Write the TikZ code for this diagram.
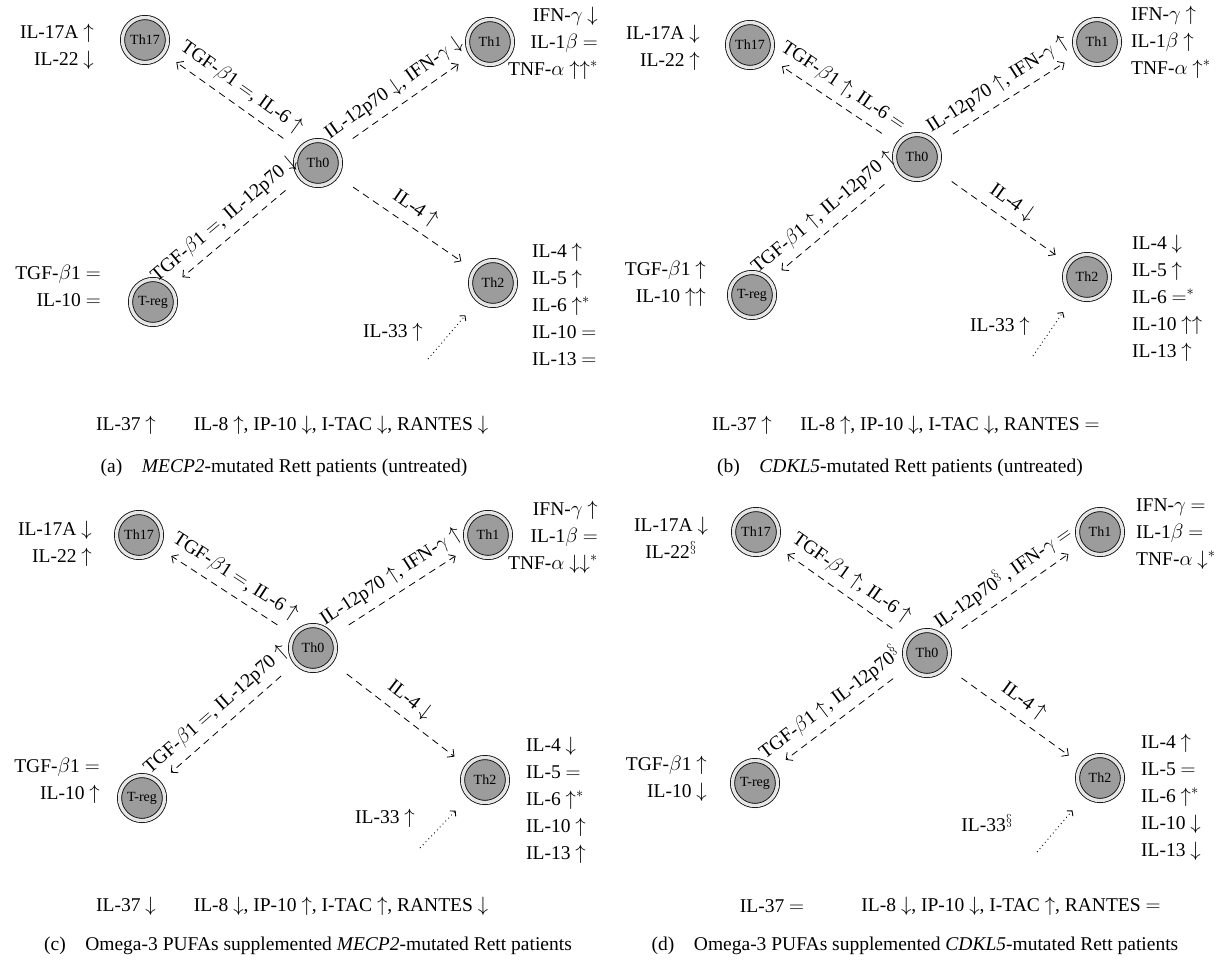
\documentclass[tikz,border=0pt]{standalone}
\usepackage{fontspec}
\setmainfont{Liberation Serif}
\usetikzlibrary{arrows.meta}
\definecolor{cellgray}{HTML}{9C9C9C}
\definecolor{ringgray}{HTML}{E6E6E6}
\newcommand\labfont{\fontsize{19.5}{27}\selectfont}
\newcommand\cellfont{\fontsize{14}{15}\selectfont}
\newcommand\capfont{\fontsize{19.5}{20}\selectfont}
\newcommand\up{$\uparrow$}
\newcommand\dn{$\downarrow$}
\newcommand\eq{$=$}
\begin{document}
\begin{tikzpicture}[x=1pt,y=-1pt,
  cell/.style={circle, draw, line width=0.8pt, double=ringgray, double distance=3.4pt,
    fill=cellgray, minimum size=45pt, inner sep=0pt, outer sep=0pt, font=\cellfont},
  lab/.style={font=\labfont, inner sep=0pt},
  captxt/.style={font=\capfont, inner sep=0pt},
  flow/.style={dash pattern=on 7pt off 5pt, line width=0.8pt,
    -{Straight Barb[length=5pt,width=10pt]}, shorten <=20pt, shorten >=16pt},
  dotarrow/.style={dash pattern=on 0.9pt off 3.2pt, line width=0.9pt,
    -{Straight Barb[length=3.5pt,width=8pt]}, shorten >=20pt},
  elab/.style={sloped, above=8pt, font=\labfont, inner sep=0pt}]
\useasboundingbox (0,0) rectangle (1226,959);

% ---------------- panel (a)
\node[cell] (a0) at (318,163) {Th0};
\node[cell] (a17) at (145,40) {Th17};
\node[cell] (a1) at (490,42) {Th1};
\node[cell] (areg) at (153,302) {T-reg};
\node[cell] (a2) at (493,283) {Th2};
\node[lab, anchor=east, align=right] (a17l) at (94,47) {IL-17A \up\\IL-22 \dn};
\node[lab, anchor=east, align=right] (a1l) at (598,43) {IFN-$\gamma$ \dn\\IL-1$\beta$ \eq\\TNF-$\alpha$ $\uparrow\uparrow^*$};
\node[lab, anchor=east, align=right] (aregl) at (101,286) {TGF-$\beta$1 \eq\\IL-10 \eq};
\node[lab, anchor=west, align=left] (a2l) at (532,304) {IL-4 \up\\IL-5 \up\\IL-6 $\uparrow^*$\\IL-10 \eq\\IL-13 \eq};
\node[lab] (a33) at (393,332) {IL-33 \up};
\coordinate (a33s) at (428,359);
\draw[dotarrow] (a33s) -- (a2);
\draw[flow] (a0) -- node[elab] {TGF-$\beta$1 \eq, IL-6 \up} (a17);
\draw[flow] (a0) -- node[elab] {IL-12p70 \dn, IFN-$\gamma$ \dn} (a1);
\draw[flow] (a0) -- node[elab] {TGF-$\beta$1 \eq, IL-12p70 \dn} (areg);
\draw[flow] (a0) -- node[elab] {IL-4 \up} (a2);
\node[lab] (a37) at (126,425) {IL-37 \up};
\node[lab] (achem) at (341,425) {IL-8 \up, IP-10 \dn, I-TAC \dn, RANTES \dn};
\node[captxt] (acap) at (284,468) {(a)\quad\textit{MECP2}-mutated Rett patients (untreated)};

% ---------------- panel (b)
\node[cell] (b0) at (917,157) {Th0};
\node[cell] (b17) at (750,45) {Th17};
\node[cell] (b1) at (1097,42) {Th1};
\node[cell] (breg) at (752,295) {T-reg};
\node[cell] (b2) at (1087,277) {Th2};
\node[lab, anchor=east, align=right] (b17l) at (700,48) {IL-17A \dn\\IL-22 \up};
\node[lab, anchor=west, align=left] (b1l) at (1131,42) {IFN-$\gamma$ \up\\IL-1$\beta$ \up\\TNF-$\alpha$ $\uparrow^*$};
\node[lab, anchor=east, align=right] (bregl) at (706,284) {TGF-$\beta$1 \up\\IL-10 $\uparrow\uparrow$};
\node[lab, anchor=west, align=left] (b2l) at (1132,298) {IL-4 \dn\\IL-5 \up\\IL-6 $=^*$\\IL-10 $\uparrow\uparrow$\\IL-13 \up};
\node[lab] (b33) at (1000,326) {IL-33 \up};
\coordinate (b33s) at (1033,356);
\draw[dotarrow] (b33s) -- (b2);
\draw[flow] (b0) -- node[elab] {TGF-$\beta$1 \up, IL-6 \eq} (b17);
\draw[flow] (b0) -- node[elab] {IL-12p70 \up, IFN-$\gamma$ \up} (b1);
\draw[flow] (b0) -- node[elab] {TGF-$\beta$1 \up, IL-12p70 \up} (breg);
\draw[flow] (b0) -- node[elab] {IL-4 \dn} (b2);
\node[lab] (b37) at (742,425) {IL-37 \up};
\node[lab] (bchem) at (950,425) {IL-8 \up, IP-10 \dn, I-TAC \dn, RANTES \eq};
\node[captxt] (bcap) at (900,468) {(b)\quad\textit{CDKL5}-mutated Rett patients (untreated)};

% ---------------- panel (c)
\node[cell] (c0) at (313,648) {Th0};
\node[cell] (c17) at (139,535) {Th17};
\node[cell] (c1) at (488,535) {Th1};
\node[cell] (creg) at (142,798) {T-reg};
\node[cell] (c2) at (485,780) {Th2};
\node[lab, anchor=east, align=right] (c17l) at (92,544) {IL-17A \dn\\IL-22 \up};
\node[lab, anchor=east, align=right] (c1l) at (598,537) {IFN-$\gamma$ \up\\IL-1$\beta$ \eq\\TNF-$\alpha$ $\downarrow\downarrow^*$};
\node[lab, anchor=east, align=right] (cregl) at (100,781) {TGF-$\beta$1 \eq\\IL-10 \up};
\node[lab, anchor=west, align=left] (c2l) at (526,800) {IL-4 \dn\\IL-5 \eq\\IL-6 $\uparrow^*$\\IL-10 \up\\IL-13 \up};
\node[lab] (c33) at (385,818) {IL-33 \up};
\coordinate (c33s) at (420,848);
\draw[dotarrow] (c33s) -- (c2);
\draw[flow] (c0) -- node[elab] {TGF-$\beta$1 \eq, IL-6 \up} (c17);
\draw[flow] (c0) -- node[elab] {IL-12p70 \up, IFN-$\gamma$ \up} (c1);
\draw[flow] (c0) -- node[elab] {TGF-$\beta$1 \eq, IL-12p70 \up} (creg);
\draw[flow] (c0) -- node[elab] {IL-4 \dn} (c2);
\node[lab] (c37) at (126,906) {IL-37 \dn};
\node[lab] (cchem) at (341,906) {IL-8 \dn, IP-10 \up, I-TAC \up, RANTES \dn};
\node[captxt] (ccap) at (308,946) {(c)\quad Omega-3 PUFAs supplemented \textit{MECP2}-mutated Rett patients};

% ---------------- panel (d)
\node[cell] (d0) at (927,653) {Th0};
\node[cell] (d17) at (756,532) {Th17};
\node[cell] (d1) at (1100,532) {Th1};
\node[cell] (dreg) at (755,783) {T-reg};
\node[cell] (d2) at (1100,778) {Th2};
\node[lab, align=center] (d17l) at (671,538) {IL-17A \dn\\IL-22$^{\S}$};
\node[lab, anchor=west, align=left] (d1l) at (1136,534) {IFN-$\gamma$ \eq\\IL-1$\beta$ \eq\\TNF-$\alpha$ $\downarrow^*$};
\node[lab, anchor=east, align=right] (dregl) at (707,779) {TGF-$\beta$1 \up\\IL-10 \dn};
\node[lab, anchor=west, align=left] (d2l) at (1141,797) {IL-4 \up\\IL-5 \eq\\IL-6 $\uparrow^*$\\IL-10 \dn\\IL-13 \dn};
\node[lab] (d33) at (987,823) {IL-33$^{\S}$};
\coordinate (d33s) at (1037,852);
\draw[dotarrow] (d33s) -- (d2);
\draw[flow] (d0) -- node[elab] {TGF-$\beta$1 \up, IL-6 \up} (d17);
\draw[flow] (d0) -- node[elab] {IL-12p70$^{\S}$\,, IFN-$\gamma$ \eq} (d1);
\draw[flow] (d0) -- node[elab] {TGF-$\beta$1 \up, IL-12p70$^{\S}$} (dreg);
\draw[flow] (d0) -- node[elab] {IL-4 \up} (d2);
\node[lab] (d37) at (772,906) {IL-37 \eq};
\node[lab] (dchem) at (1011,906) {IL-8 \dn, IP-10 \dn, I-TAC \up, RANTES \eq};
\node[captxt] (dcap) at (915,946) {(d)\quad Omega-3 PUFAs supplemented \textit{CDKL5}-mutated Rett patients};
\end{tikzpicture}
\end{document}
